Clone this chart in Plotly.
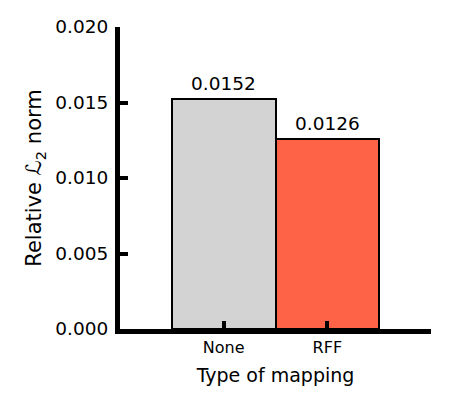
import plotly.graph_objects as go

categories = ["None", "RFF"]
values = [0.0152, 0.0126]
colors = ["lightgray", "tomato"]
y_ticks = [0.0, 0.005, 0.010, 0.015, 0.020]
y_tick_labels = ["0.000", "0.005", "0.010", "0.015", "0.020"]

FONT = "DejaVu Sans"

fig = go.Figure()
fig.add_trace(go.Bar(
    x=categories, y=values,
    marker=dict(color=colors, line=dict(color="black", width=2)),
    width=1.0,
    showlegend=False,
))

for c, v in zip(categories, values):
    fig.add_annotation(x=c, y=v, text=f"{v:.4f}", showarrow=False,
                       yanchor="bottom", yshift=3,
                       font=dict(family=FONT, size=18.5, color="black"))

fig.update_layout(
    width=450, height=407,
    margin=dict(l=120, r=19, t=27, b=78),
    paper_bgcolor="white", plot_bgcolor="white",
    font=dict(family=FONT, color="black"),
    bargap=0,
)
fig.update_xaxes(
    range=[-1, 2],
    showline=True, linecolor="black", linewidth=5,
    ticks="inside", ticklen=8, tickwidth=3.5, tickcolor="black",
    tickfont=dict(size=16, family=FONT),
    ticklabelstandoff=0,
    title=dict(text="Type of mapping", font=dict(size=19, family=FONT), standoff=14),
    showgrid=False, zeroline=False,
)
fig.update_yaxes(
    range=[0, 0.020],
    tickvals=y_ticks, ticktext=y_tick_labels,
    showline=True, linecolor="black", linewidth=5,
    ticks="inside", ticklen=8, tickwidth=3.5, tickcolor="black",
    tickfont=dict(size=18.5, family=FONT),
    ticklabelstandoff=3,
    title=dict(text="Relative ℒ<sub>2</sub> norm", font=dict(size=21, family=FONT), standoff=9),
    showgrid=False, zeroline=False,
)

fig.write_html("out.html", config={"displayModeBar": False},
               post_script="document.body.style.margin='0';")
